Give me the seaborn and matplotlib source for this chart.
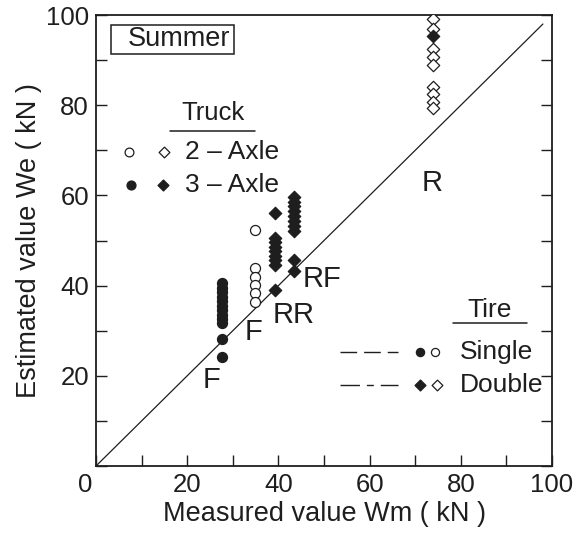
import numpy as np
import pandas as pd
import matplotlib
matplotlib.use('Agg')
import matplotlib.pyplot as plt
import seaborn as sns
from matplotlib.patches import Rectangle

# measured axle load Wm (kN) and estimated loads We (kN), summer data
front_3axle_wm = 27.7
front_3axle_we = [40.5, 39.5, 38.5, 37.5, 36.5, 35.5, 34.5, 33.5, 32.5, 31.6, 28.1, 24.1]

front_2axle_wm = 34.9
front_2axle_we = [52.3, 43.8, 42.0, 40.1, 38.3, 36.4]

rear_rear_3axle_wm = 39.3
rear_rear_3axle_we = [56.1, 50.6, 49.6, 48.6, 47.6, 46.6, 45.6, 44.6, 39.0]

rear_front_3axle_wm = 43.4
rear_front_3axle_we = [59.6, 58.6, 57.6, 56.5, 55.5, 54.4, 53.3, 52.2, 45.7, 43.3]

rear_2axle_wm = 74.0
rear_2axle_we = [99.2, 96.8, 92.5, 90.6, 89.0, 84.0, 82.5, 80.8, 79.3]
rear_2axle_we_dark = [95.3]

axle_labels = ['F', 'F', 'RR', 'RF', 'R']
label_x = [25.4, 34.6, 43.3, 49.5, 73.7]
label_y = [19.1, 29.8, 33.5, 41.4, 62.7]

ticks_major = [0, 20, 40, 60, 80, 100]
ticks_minor = [10, 30, 50, 70, 90]
equal_line = [0, 98]

rows = []
def add(wm, values, marker, filled):
    for v in values:
        rows.append({'wm': wm, 'we': v, 'marker': marker, 'filled': filled})

add(front_3axle_wm, front_3axle_we, 'o', True)
add(front_2axle_wm, front_2axle_we, 'o', False)
add(rear_rear_3axle_wm, rear_rear_3axle_we, 'D', True)
add(rear_front_3axle_wm, rear_front_3axle_we, 'D', True)
add(rear_2axle_wm, rear_2axle_we, 'D', False)
add(rear_2axle_wm, rear_2axle_we_dark, 'D', True)
df = pd.DataFrame(rows)

sns.set_style('white')
plt.rcParams['font.family'] = ['Liberation Sans', 'DejaVu Sans']
ink = '#1e1e1e'

fig = plt.figure(figsize=(5.77, 5.36), dpi=100)
ax = fig.add_axes([0.1664, 0.1306, 0.7903, 0.8414])

sns.lineplot(x=equal_line, y=equal_line, color=ink, lw=0.9, ax=ax)

sizes = {'o': 52, 'D': 40}
for (marker, filled), grp in df.groupby(['marker', 'filled']):
    sns.scatterplot(data=grp, x='wm', y='we', marker=marker, s=sizes[marker],
                    color=ink if filled else 'white', edgecolor=ink,
                    linewidth=0.9, zorder=3, ax=ax, legend=False)

for t, x, y in zip(axle_labels, label_x, label_y):
    ax.text(x, y, t, fontsize=21, ha='center', va='center', color=ink)

# Summer box
ax.add_patch(Rectangle((3.2, 91.3), 27.1, 6.5, fill=False, ec=ink, lw=1.1))
ax.text(7.0, 94.6, 'Summer', fontsize=19.5, va='center', ha='left', color=ink)

# Truck legend
ax.text(25.6, 78.3, 'Truck', fontsize=18.5, ha='center', va='center', color=ink)
ax.plot([16.2, 34.9], [74.3, 74.3], color=ink, lw=1.1)
ax.scatter([7.2], [69.6], marker='o', s=40, facecolor='white', edgecolor=ink, lw=0.9)
ax.scatter([14.8], [69.6], marker='D', s=30, facecolor='white', edgecolor=ink, lw=0.9)
ax.text(19.5, 69.6, '2 \u2013 Axle', fontsize=19, va='center', color=ink)
ax.scatter([7.6], [62.3], marker='o', s=40, color=ink)
ax.scatter([14.6], [62.3], marker='D', s=30, color=ink)
ax.text(19.5, 62.3, '3 \u2013 Axle', fontsize=19, va='center', color=ink)

# Tire legend
ax.text(86.4, 34.6, 'Tire', fontsize=19, ha='center', va='center', color=ink)
ax.plot([78.3, 94.5], [31.7, 31.7], color=ink, lw=1.1)
ax.plot([53.5, 66.2], [25.3, 25.3], color=ink, lw=1.0, ls=(0, (12, 5)))
ax.scatter([71.1], [25.3], marker='o', s=34, color=ink)
ax.scatter([74.4], [25.3], marker='o', s=34, facecolor='white', edgecolor=ink, lw=0.9)
ax.text(79.8, 25.3, 'Single', fontsize=19, va='center', color=ink)
ax.plot([53.5, 66.2], [18.0, 18.0], color=ink, lw=1.0, ls=(0, (14, 5, 5, 5)))
ax.scatter([71.0], [18.0], marker='D', s=30, color=ink)
ax.scatter([74.8], [18.0], marker='D', s=30, facecolor='white', edgecolor=ink, lw=0.9)
ax.text(79.8, 18.0, 'Double', fontsize=19, va='center', color=ink)

ax.set_xlim(0, 100)
ax.set_ylim(0, 100)
ax.set_xticks(ticks_major)
ax.set_xticks(ticks_minor, minor=True)
ax.set_yticks(ticks_major)
ax.set_yticks(ticks_minor, minor=True)
ax.set_xticklabels([''] + [str(t) for t in ticks_major[1:]])
ax.set_yticklabels([''] + [str(t) for t in ticks_major[1:]])
ax.text(-2.4, -1.6, '0', fontsize=18.5, ha='center', va='top', color=ink)
ax.tick_params(which='both', direction='in', length=8, width=1.0, colors=ink,
               labelsize=18.5, right=True, bottom=True, left=True, top=False, pad=5)
for s in ax.spines.values():
    s.set_color(ink)
    s.set_linewidth(1.3)

ax.set_xlabel('Measured value Wm ( kN )', fontsize=19.5, color=ink, labelpad=3)
ax.set_ylabel('Estimated value We ( kN )', fontsize=19.5, color=ink, labelpad=3)

fig.savefig('out.png', dpi=100, facecolor='white')
